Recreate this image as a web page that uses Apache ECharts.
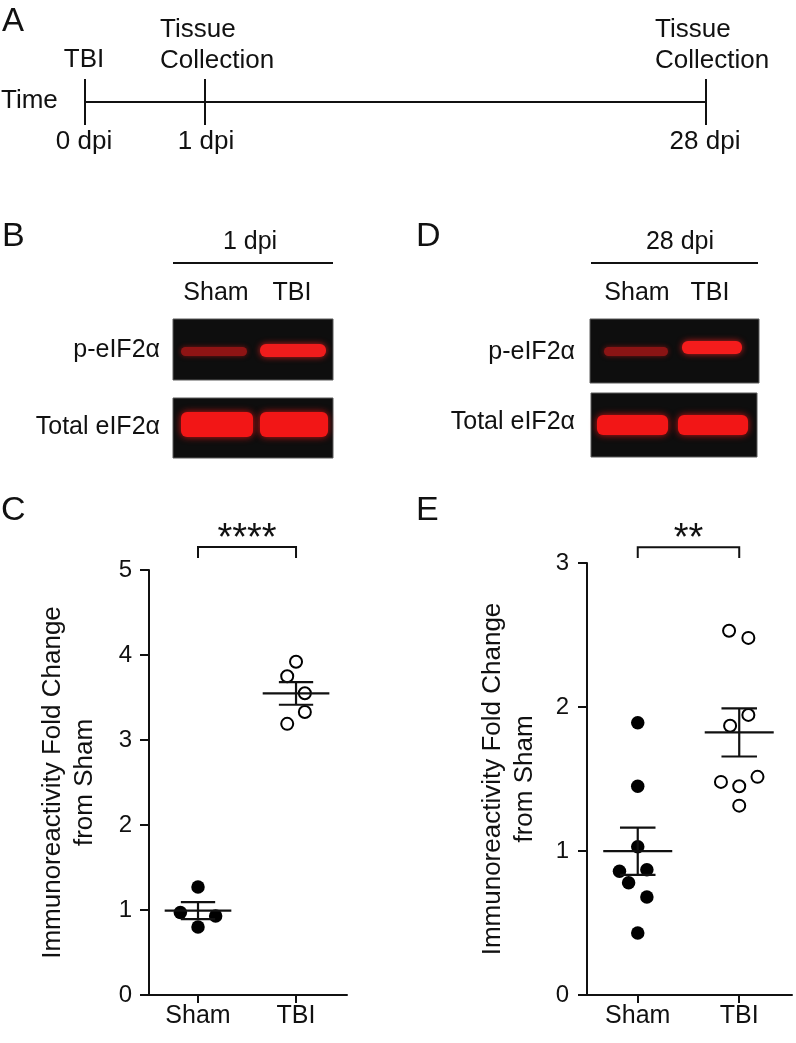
<!DOCTYPE html>
<html><head><meta charset="utf-8">
<script src="https://cdn.jsdelivr.net/npm/echarts@6/dist/echarts.min.js"></script>
<style>html,body{margin:0;padding:0;background:#fff}#c{width:796px;height:1043px}</style>
</head><body><div id="c"></div>
<script>
// ---- data ----
const groups = ['Sham', 'TBI'];
const yMaxC = 5, yMaxE = 3;
const shamC = [1.27, 0.97, 0.93, 0.80];
const shamCJitter = [0, -0.18, 0.18, 0];
const tbiC = [3.92, 3.75, 3.55, 3.33, 3.19];
const tbiCJitter = [0, -0.09, 0.09, 0.09, -0.09];
const shamE = [1.89, 1.45, 1.03, 0.86, 0.87, 0.78, 0.68, 0.43];
const shamEJitter = [0, 0, 0, -0.18, 0.09, -0.09, 0.09, 0];
const tbiE = [2.53, 2.48, 1.945, 1.87, 1.515, 1.48, 1.45, 1.315];
const tbiEJitter = [-0.1, 0.09, 0.09, -0.09, 0.18, -0.18, 0, 0];
const sigC = '****', sigE = '**';
const bracketC = [5.14, 5.27], bracketE = [3.035, 3.11];
const timeLabels = ['0 dpi', '1 dpi', '28 dpi'];
const yName = 'Immunoreactivity Fold Change\nfrom Sham';

const FONT = '"Liberation Sans", Arial, Helvetica, sans-serif';
const INK = '#111';

function mean(a){ return a.reduce((s,v)=>s+v,0)/a.length; }
function sem(a){ const m = mean(a); const v = a.reduce((s,x)=>s+(x-m)*(x-m),0)/(a.length-1); return Math.sqrt(v/a.length); }

function errRender(params, api){
  const x = api.value(0), m = api.value(1), s = api.value(2);
  const c = api.coord([x, m]);
  const hi = api.coord([x, m + s]);
  const lo = api.coord([x, m - s]);
  const hm = api.size([0.34, 0])[0];
  const hc = api.size([0.175, 0])[0];
  const st = {stroke: INK, lineWidth: 2.2, fill: null};
  return {type: 'group', children: [
    {type: 'line', shape: {x1: c[0]-hm, y1: c[1], x2: c[0]+hm, y2: c[1]}, style: st},
    {type: 'line', shape: {x1: c[0], y1: hi[1], x2: c[0], y2: lo[1]}, style: st},
    {type: 'line', shape: {x1: c[0]-hc, y1: hi[1], x2: c[0]+hc, y2: hi[1]}, style: st},
    {type: 'line', shape: {x1: c[0]-hc, y1: lo[1], x2: c[0]+hc, y2: lo[1]}, style: st}
  ]};
}
function brRender(text){
  return function(params, api){
    const a = api.coord([api.value(0), api.value(3)]);
    const b = api.coord([api.value(1), api.value(3)]);
    const aLo = api.coord([api.value(0), api.value(2)]);
    return {type: 'group', children: [
      {type: 'polyline', shape: {points: [[a[0], aLo[1]], a, b, [b[0], aLo[1]]]},
       style: {stroke: INK, lineWidth: 2, fill: null}},
      {type: 'text', x: (a[0]+b[0])/2, y: a[1]-8,
       style: {text: text, fill: INK, font: '38px ' + FONT, align: 'center', verticalAlign: 'middle',
               textAlign: 'center', textVerticalAlign: 'middle'}}
    ]};
  };
}

function xAxis(gi){
  return {gridIndex: gi, type: 'value', min: -0.5, max: 1.52,
    axisLine: {show: true, onZero: false, lineStyle: {color: INK, width: 2}},
    axisTick: {show: true, length: 8, customValues: [0, 1], lineStyle: {color: INK, width: 2}},
    axisLabel: {show: true, customValues: [0, 1], formatter: v => groups[Math.round(v)],
      fontSize: 25, fontFamily: FONT, color: INK, margin: 9},
    splitLine: {show: false}};
}
function yAxis(gi, max, gap, margin){
  return {gridIndex: gi, type: 'value', min: 0, max: max, interval: 1,
    axisLine: {show: true, onZero: false, lineStyle: {color: INK, width: 2}},
    axisTick: {show: true, length: 9, lineStyle: {color: INK, width: 2}},
    axisLabel: {fontSize: 24, fontFamily: FONT, color: INK, margin: margin},
    splitLine: {show: false},
    name: yName, nameLocation: 'middle', nameRotate: 90, nameGap: gap,
    nameTextStyle: {fontSize: 26, lineHeight: 32, fontFamily: FONT, color: INK, align: 'center'}};
}
function scatterFilled(gi, vals, jit, base){
  return {type: 'scatter', xAxisIndex: gi, yAxisIndex: gi, symbol: 'circle', symbolSize: 13.5,
    data: vals.map((v,i)=>[base + jit[i], v]), itemStyle: {color: '#000', opacity: 1}, z: 3};
}
function scatterOpen(gi, vals, jit, base){
  return {type: 'scatter', xAxisIndex: gi, yAxisIndex: gi, symbol: 'circle', symbolSize: 12,
    data: vals.map((v,i)=>[base + jit[i], v]),
    itemStyle: {color: '#fff', borderColor: '#000', borderWidth: 2, opacity: 1}, z: 3};
}
function errSeries(gi, sets){
  return {type: 'custom', xAxisIndex: gi, yAxisIndex: gi, renderItem: errRender, z: 5,
    data: sets.map((a,i)=>[i, mean(a), sem(a)]), clip: false};
}
function brSeries(gi, br, text){
  return {type: 'custom', xAxisIndex: gi, yAxisIndex: gi, renderItem: brRender(text), z: 5,
    data: [[0, 1, br[0], br[1]]], clip: false};
}

// ---- graphics (schematic + blots) ----
function T(text, x, y, size, align, extra){
  return Object.assign({type: 'text', x: x, y: y, silent: true,
    style: {text: text, fill: INK, font: size + 'px ' + FONT, align: align || 'center', verticalAlign: 'middle',
            textAlign: align || 'center', textVerticalAlign: 'middle'}}, extra || {});
}
function L(x1, y1, x2, y2, w){
  return {type: 'line', silent: true, shape: {x1, y1, x2, y2}, style: {stroke: INK, lineWidth: w || 2}};
}
function blot(x, y, w, h){
  return {type: 'rect', silent: true, shape: {x, y, width: w, height: h},
    style: {fill: '#0e0e0e', stroke: '#5a5a5a', lineWidth: 1}};
}
function band(x, y, w, h, col, glow, blur){
  return {type: 'rect', silent: true, shape: {x, y, width: w, height: h, r: Math.min(h/2, 6)},
    style: {fill: col, shadowBlur: blur, shadowColor: glow}};
}
const tickXs = [85, 205, 706];
const graphics = [
  // Panel A
  T('A', 2, 22, 33, 'left'),
  T('TBI', 84, 60, 26),
  T('Tissue', 160, 30, 26, 'left'), T('Collection', 160, 61, 26, 'left'),
  T('Tissue', 655, 30, 26, 'left'), T('Collection', 655, 61, 26, 'left'),
  T('Time', 1, 101, 26, 'left'),
  L(tickXs[0], 102, tickXs[2], 102, 2),
  ...tickXs.map(x => L(x, 79, x, 125, 2)),
  T(timeLabels[0], 84, 142, 26), T(timeLabels[1], 206, 142, 26), T(timeLabels[2], 705, 142, 26),
  // Panel B
  T('B', 2, 237, 34, 'left'),
  T('1 dpi', 250, 242, 25),
  L(173, 263, 333, 263, 2),
  T('Sham', 216, 293, 25), T('TBI', 292, 293, 25),
  T('p-eIF2α', 160, 350, 25, 'right'),
  T('Total eIF2α', 160, 427, 25, 'right'),
  blot(173, 319, 160, 61),
  band(181, 347, 66, 9, '#8e1414', 'rgba(200,20,20,0.6)', 5),
  band(260, 344, 66, 13, '#f01c1c', 'rgba(255,30,30,0.8)', 6),
  blot(173, 398, 160, 60),
  band(181, 412, 72, 25, '#f21616', 'rgba(255,20,20,0.8)', 7),
  band(260, 412, 68, 25, '#f21616', 'rgba(255,20,20,0.8)', 7),
  // Panel D
  T('D', 416, 237, 34, 'left'),
  T('28 dpi', 680, 242, 25),
  L(591, 263, 758, 263, 2),
  T('Sham', 637, 293, 25), T('TBI', 710, 293, 25),
  T('p-eIF2α', 575, 352, 25, 'right'),
  T('Total eIF2α', 575, 422, 25, 'right'),
  blot(590, 319, 169, 64),
  band(604, 347, 64, 9, '#8a1414', 'rgba(200,20,20,0.6)', 5),
  band(682, 341, 60, 13, '#f41c1c', 'rgba(255,30,30,0.8)', 6),
  blot(591, 393, 166, 64),
  band(597, 415, 71, 20, '#f21616', 'rgba(255,20,20,0.8)', 7),
  band(678, 415, 70, 20, '#f21616', 'rgba(255,20,20,0.8)', 7),
  // Panel letters C, E
  T('C', 1, 511, 34, 'left'),
  T('E', 416, 511, 34, 'left')
];

const chart = echarts.init(document.getElementById('c'), null, {renderer: 'canvas'});
chart.setOption({
  animation: false,
  backgroundColor: '#fff',
  textStyle: {fontFamily: FONT},
  grid: [
    {left: 149, top: 570, width: 198, height: 425},
    {left: 587, top: 563, width: 205, height: 432}
  ],
  xAxis: [xAxis(0), xAxis(1)],
  yAxis: [yAxis(0, yMaxC, 48, 17), yAxis(1, yMaxE, 46, 18)],
  series: [
    scatterFilled(0, shamC, shamCJitter, 0),
    scatterOpen(0, tbiC, tbiCJitter, 1),
    errSeries(0, [shamC, tbiC]),
    brSeries(0, bracketC, sigC),
    scatterFilled(1, shamE, shamEJitter, 0),
    scatterOpen(1, tbiE, tbiEJitter, 1),
    errSeries(1, [shamE, tbiE]),
    brSeries(1, bracketE, sigE)
  ],
  graphic: {elements: graphics}
});
</script></body></html>
